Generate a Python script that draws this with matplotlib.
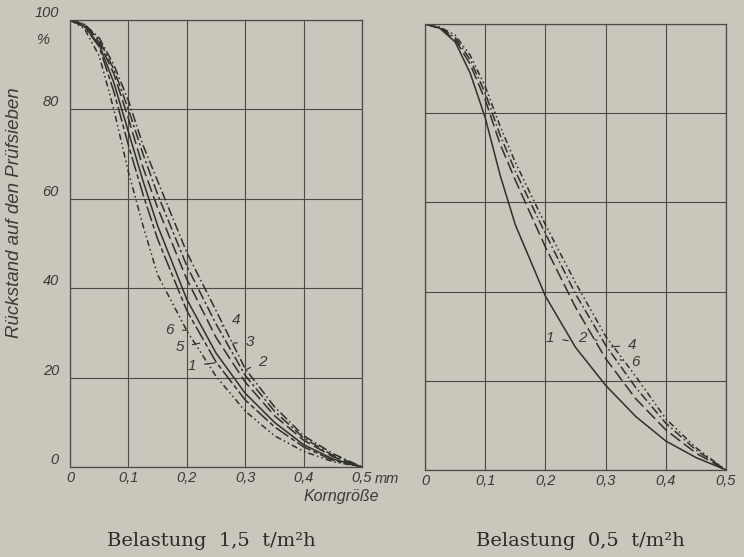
import matplotlib
matplotlib.use("Agg")
import matplotlib.pyplot as plt

# Korngroesse in mm (gemeinsame Stuetzstellen)
korn = [0, 0.025, 0.05, 0.075, 0.1, 0.125, 0.15, 0.2, 0.25, 0.3, 0.35, 0.4, 0.45, 0.5]

# Belastung 1,5 t/m2h - Rueckstand in %
links_1 = [100, 98.5, 94.5, 86, 75, 64, 54, 37.5, 25.5, 16.5, 10, 5, 1.8, 0]
links_2 = [100, 99, 95, 88, 78, 67, 58, 42, 29, 19, 11.5, 6, 2.3, 0]
links_3 = [100, 99, 95.5, 89, 80, 70, 61, 45, 32, 20.5, 12.5, 6.5, 2.6, 0]
links_4 = [100, 99, 96, 90, 82, 72, 64, 48, 35, 22, 13.5, 7, 3, 0]
links_5 = [100, 98.5, 94, 84, 72, 61, 51, 35, 23.5, 15, 9, 4.5, 1.5, 0]
links_6 = [100, 98, 92, 80, 66, 54, 43, 30.5, 20.3, 12.5, 7, 3.5, 1.2, 0]

# Belastung 0,5 t/m2h
rechts_1 = [100, 99, 96, 89, 79, 66, 55, 39, 27.5, 19, 12, 6.5, 2.8, 0]
rechts_2 = [100, 99, 96.5, 91, 83, 73, 65, 50, 36.5, 25, 16, 9, 3.8, 0]
rechts_4 = [100, 99.2, 97, 92, 84.5, 75, 67, 53, 39.5, 28, 18.5, 10.5, 4.5, 0]
rechts_6 = [100, 99.3, 97.5, 93, 86, 77, 69, 55, 42, 30, 21, 11.5, 5, 0]

x_ticks = [0, 0.1, 0.2, 0.3, 0.4, 0.5]
x_labels = ["0", "0,1", "0,2", "0,3", "0,4", "0,5"]
y_ticks = [0, 20, 40, 60, 80, 100]
y_labels = ["0", "20", "40", "60", "80", "100"]

stile = {
    1: "-",
    2: (0, (8, 3)),
    3: (0, (7, 2, 1.5, 2)),
    4: (0, (6, 2, 1, 2)),
    5: (0, (10, 2, 3, 2)),
    6: (0, (4, 2, 1, 2, 1, 2)),
}

bg = "#c9c6bb"
ink = "#2f2f2c"
grid_c = "#4a4a46"
txt_c = "#3a3a37"
sans = ["Liberation Sans", "DejaVu Sans"]

fig = plt.figure(figsize=(7.44, 5.57), dpi=100, facecolor=bg)
ax1 = fig.add_axes([70 / 744, 90 / 557, 292 / 744, 447 / 557])
ax2 = fig.add_axes([425 / 744, 87 / 557, 301 / 744, 446 / 557])


def rahmen(ax):
    ax.set_facecolor(bg)
    ax.set_xlim(0, 0.5)
    ax.set_ylim(0, 100)
    ax.set_xticks(x_ticks)
    ax.set_yticks(y_ticks)
    ax.grid(True, color=grid_c, lw=0.8)
    ax.tick_params(length=0)
    for s in ax.spines.values():
        s.set_color(grid_c)
        s.set_linewidth(0.9)
    ax.set_xticklabels(x_labels, fontsize=10.5, style="italic", color=txt_c, family=sans)


rahmen(ax1)
rahmen(ax2)

links = {1: links_1, 2: links_2, 3: links_3, 4: links_4, 5: links_5, 6: links_6}
for k, werte in links.items():
    ax1.plot(korn, werte, color=ink, lw=1.1, linestyle=stile[k])

rechts = {1: rechts_1, 2: rechts_2, 4: rechts_4, 6: rechts_6}
for k, werte in rechts.items():
    ax2.plot(korn, werte, color=ink, lw=1.1, linestyle=stile[k])

# y-Beschriftung nur links
ax1.set_yticklabels(y_labels, fontsize=10.5, style="italic", color=txt_c, family=sans)
for t in ax1.get_yticklabels():
    t.set_va("bottom")
ax2.set_yticklabels([])
ax1.tick_params(axis="y", pad=8)
ax1.tick_params(axis="x", pad=3)
ax2.tick_params(axis="x", pad=3)
ax1.text(-0.035, 95.5, "%", fontsize=10.5, style="italic", color=txt_c,
         family=sans, ha="right", va="center")
ax1.text(0.522, -2.6, "mm", fontsize=10.5, style="italic", color=txt_c,
         family=sans, ha="left", va="center", clip_on=False)
ax1.text(0.465, -6.6, "Korngröße", fontsize=11.5, style="italic", color=txt_c,
         family=sans, ha="center", va="center", clip_on=False)
ax1.set_ylabel("Rückstand auf den Prüfsieben", fontsize=13.5, style="italic",
               color=txt_c, family=sans)
ax1.yaxis.set_label_coords(-0.16, 0.57)

# Kurvennummern
lab_links = [
    ("6", (0.171, 30.6), (0.2, 30.6)),
    ("5", (0.188, 26.8), (0.222, 27.7)),
    ("1", (0.209, 22.6), (0.248, 23.3)),
    ("4", (0.284, 32.9), (0.26, 31.5)),
    ("3", (0.308, 28.0), (0.279, 27.7)),
    ("2", (0.33, 23.5), (0.303, 21.9)),
]
lab_rechts = [
    ("1", (0.208, 29.6), (0.238, 29.0)),
    ("2", (0.261, 29.6), (0.286, 29.1)),
    ("4", (0.344, 28.0), (0.31, 27.6)),
    ("6", (0.349, 24.2), (0.324, 24.7)),
]
for ax, labs in ((ax1, lab_links), (ax2, lab_rechts)):
    for txt, pos, tip in labs:
        ax.annotate(txt, xy=tip, xytext=pos, fontsize=11, style="italic",
                    color=txt_c, family=sans, ha="center", va="center",
                    arrowprops=dict(arrowstyle="-", color=ink, lw=0.8,
                                    shrinkA=4, shrinkB=0))

fig.text(211 / 744, 1 - 541 / 557, "Belastung  1,5  t/m²h", fontsize=14,
         family=["DejaVu Serif"], color="#2a2a27", ha="center", va="center")
fig.text(580 / 744, 1 - 541 / 557, "Belastung  0,5  t/m²h", fontsize=14,
         family=["DejaVu Serif"], color="#2a2a27", ha="center", va="center")

fig.savefig("out.png", dpi=100, facecolor=bg)
